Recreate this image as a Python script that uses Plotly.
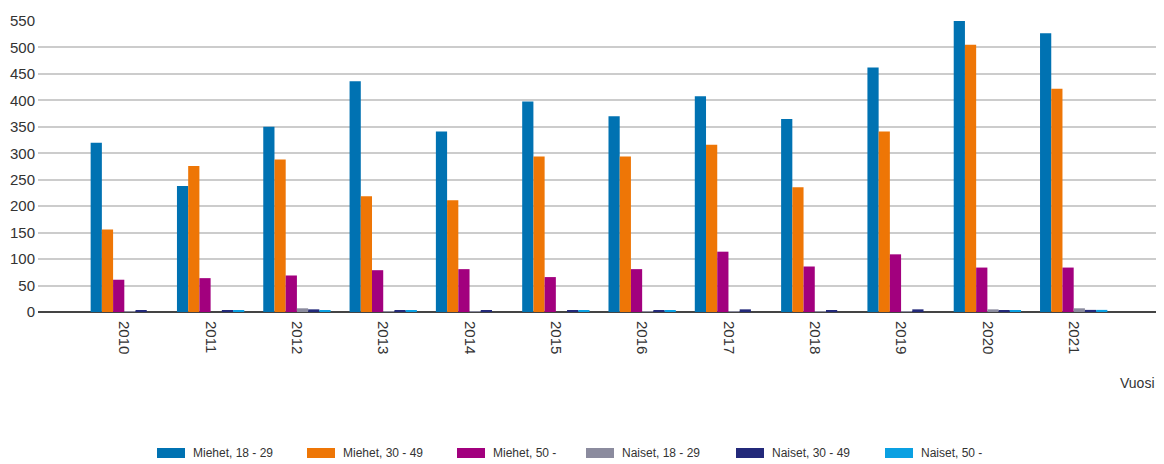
import plotly.graph_objects as go

years = ["2010", "2011", "2012", "2013", "2014", "2015", "2016", "2017", "2018", "2019", "2020", "2021"]

miehet_18_29 = [320, 238, 350, 436, 341, 398, 370, 408, 365, 462, 553, 527]
miehet_30_49 = [156, 276, 288, 219, 211, 294, 294, 316, 236, 341, 505, 422]
miehet_50 = [61, 64, 69, 79, 81, 66, 81, 114, 86, 109, 84, 84]
naiset_18_29 = [1, 0, 7, 1, 1, 0, 1, 1, 1, 1, 5, 7]
naiset_30_49 = [3, 2, 5, 3, 2, 2, 2, 5, 2, 5, 2, 4]
naiset_50 = [0, 2, 2, 3, 0, 2, 2, 0, 0, 0, 2, 4]

series = [
    ("Miehet, 18 - 29", miehet_18_29, "#0072b2"),
    ("Miehet, 30 - 49", miehet_30_49, "#ee7606"),
    ("Miehet, 50 -", miehet_50, "#a2007e"),
    ("Naiset, 18 - 29", naiset_18_29, "#8b8b9e"),
    ("Naiset, 30 - 49", naiset_30_49, "#23297a"),
    ("Naiset, 50 -", naiset_50, "#0aa0e2"),
]

# page body has an 8px margin, so the figure is a bit smaller than the window
W, H = 1156, 456
ML, MR, MT, MB = 30, 4, 13, 152
PW = W - ML - MR
PH = H - MT - MB

fig = go.Figure()
for name, values, color in series:
    fig.add_trace(go.Bar(x=years, y=values, name=name, cliponaxis=False,
                         marker=dict(color=color, line=dict(width=0))))

fig.update_layout(
    width=W,
    height=H,
    barmode="group",
    bargap=0.22,
    bargroupgap=0,
    plot_bgcolor="white",
    paper_bgcolor="white",
    font=dict(family="Liberation Sans, Arial, sans-serif", color="#333333", size=15),
    margin=dict(l=ML, r=MR, t=MT, b=MB, autoexpand=False),
    showlegend=False,
)
fig.update_xaxes(
    type="category",
    range=[-1, 12],
    tickangle=90,
    showgrid=False,
    ticks="",
    automargin=False,
    ticklabelstandoff=8,
    tickfont=dict(size=15, color="#333333"),
)
fig.update_yaxes(
    range=[0, 550],
    dtick=50,
    showgrid=True,
    gridcolor="#cccccc",
    gridwidth=1.5,
    zeroline=True,
    zerolinecolor="#444444",
    zerolinewidth=2,
    automargin=False,
    tickfont=dict(size=15, color="#333333"),
    ticklabelstandoff=2,
)
fig.add_annotation(
    text="Vuosi",
    xref="paper",
    yref="paper",
    x=0.997,
    y=-0.244,
    xanchor="right",
    yanchor="middle",
    showarrow=False,
    font=dict(size=14, color="#333333"),
)

# legend drawn by hand: wide flat swatches like the source chart
swatch_left = [157, 307, 457, 586, 736, 885]
for (name, values, color), sx in zip(series, swatch_left):
    x0 = (sx - 8 - ML) / PW
    x1 = (sx + 28 - 8 - ML) / PW
    y0 = (MT + PH - (458 - 8)) / PH
    y1 = (MT + PH - (448 - 8)) / PH
    fig.add_shape(type="rect", xref="paper", yref="paper", x0=x0, x1=x1, y0=y0, y1=y1,
                  fillcolor=color, line=dict(width=0))
    fig.add_annotation(
        text=name,
        xref="paper",
        yref="paper",
        x=(sx + 34 - 8 - ML) / PW,
        y=(MT + PH - (453 - 8)) / PH,
        xanchor="left",
        yanchor="middle",
        showarrow=False,
        font=dict(size=12, color="#333333"),
    )

fig.write_html("out.html")
